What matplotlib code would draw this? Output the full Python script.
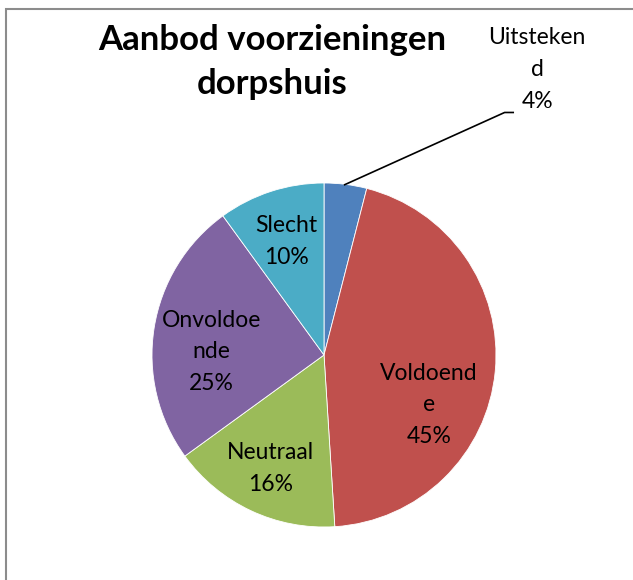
import matplotlib
matplotlib.use("Agg")
import matplotlib.pyplot as plt
from matplotlib.patches import Rectangle

plt.rcParams["font.family"] = ["Lato", "DejaVu Sans"]

categories = ["Uitstekend", "Voldoende", "Neutraal", "Onvoldoende", "Slecht"]
shares = [4, 45, 16, 25, 10]
label_texts = ["Uitsteken\nd\n4%", "Voldoend\ne\n45%", "Neutraal\n16%", "Onvoldoe\nnde\n25%", "Slecht\n10%"]
colors = ["#4F81BD", "#C0504D", "#9BBB59", "#8064A2", "#4BACC6"]

# label placement in pie-radius units (Excel "best fit" layout)
label_pos = [(1.24, 1.66), (0.61, -0.29), (-0.31, -0.66), (-0.655, 0.02), (-0.22, 0.66)]

fig = plt.figure(figsize=(6.33, 5.8), dpi=100)
fig.patches.append(Rectangle((6 / 633, -0.1), 1.2, (580 - 9) / 580 + 0.1,
                             transform=fig.transFigure, fill=False,
                             edgecolor="#8C8C8C", linewidth=1.5))

cx, cy, r = 324, 355, 172
ax = fig.add_axes([(cx - r) / 633, (580 - cy - r) / 580, 2 * r / 633, 2 * r / 580])
ax.pie(shares, colors=colors, startangle=90, counterclock=False, radius=1,
       wedgeprops=dict(linewidth=0.6, edgecolor="white"))
ax.set_xlim(-1, 1)
ax.set_ylim(-1, 1)
ax.set_aspect("equal")
ax.axis("off")

for txt, (x, y) in zip(label_texts, label_pos):
    ax.text(x, y, txt, ha="center", va="center", fontsize=16.5, linespacing=1.62,
            clip_on=False)

# leader line for the small slice
ax.plot([0.12, 1.05, 1.10], [0.99, 1.41, 1.41], color="black", lw=1.2, clip_on=False)

fig.text(272 / 633, 1 - 62 / 580, "Aanbod voorzieningen\ndorpshuis", ha="center", va="center",
         fontsize=25, fontweight="bold", linespacing=1.45)

fig.savefig("out.png", dpi=100)
